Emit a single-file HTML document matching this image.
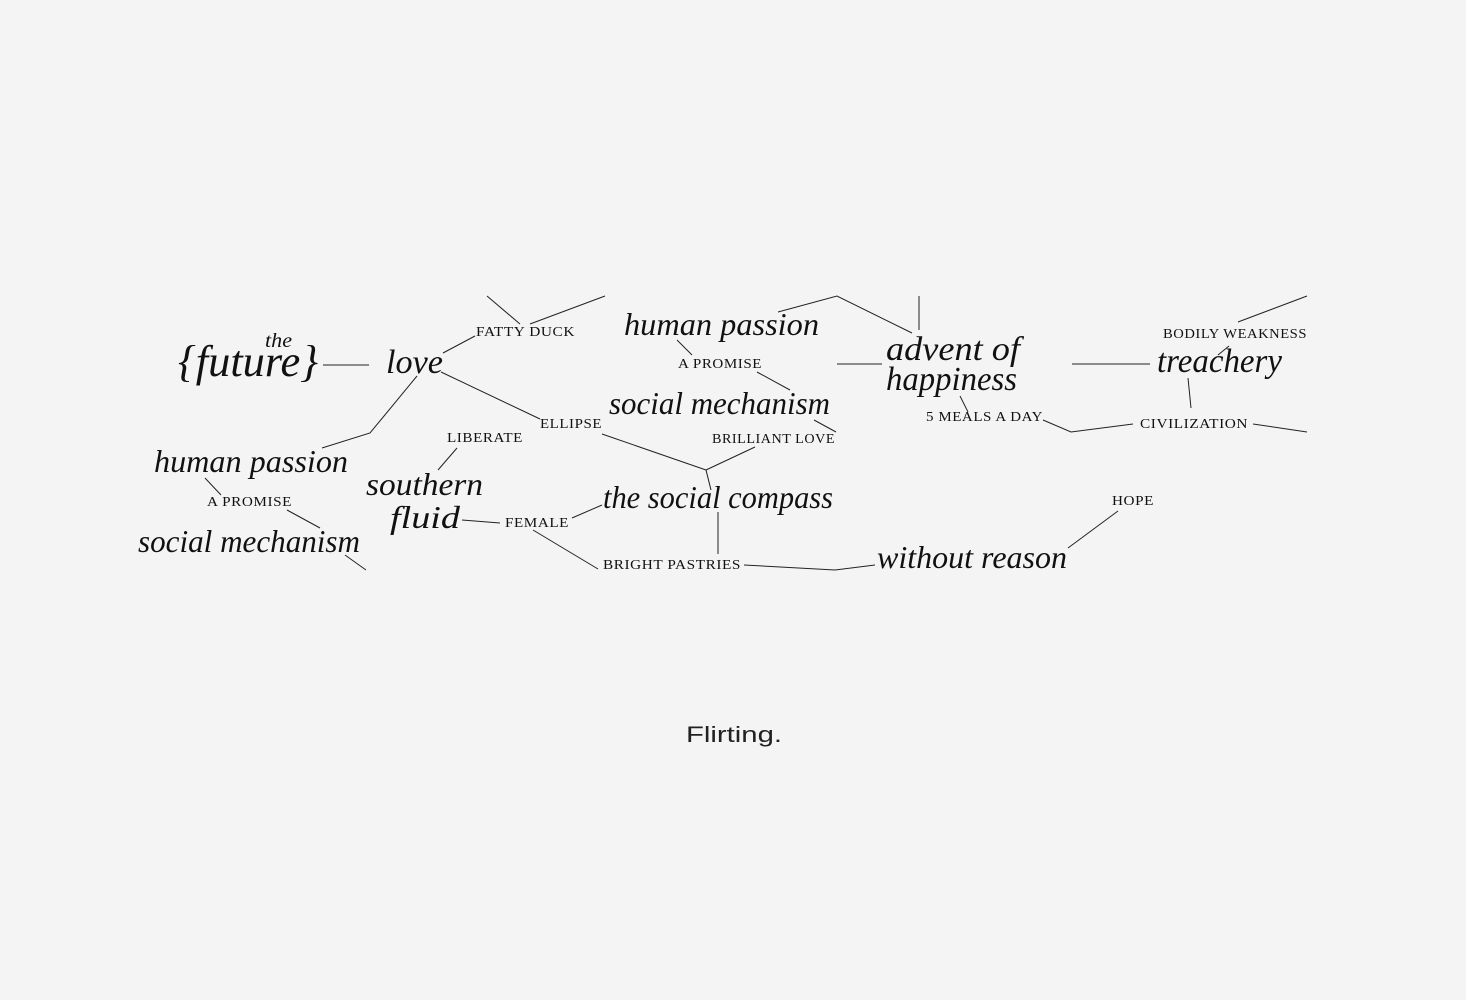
<!DOCTYPE html>
<html><head><meta charset="utf-8"><style>
html,body{margin:0;padding:0;background:#f4f4f4;}
svg{display:block}
.i{font-family:"Liberation Serif",serif;font-style:italic;fill:#111}
.s{font-family:"Liberation Serif",serif;fill:#111;font-size:13.5px;letter-spacing:0.5px}
line,polyline{stroke:#222;stroke-width:1;fill:none}
</style></head><body>
<svg width="1466" height="1000" viewBox="0 0 1466 1000" xmlns="http://www.w3.org/2000/svg">
<rect width="1466" height="1000" fill="#f4f4f4"/>
<!-- left cluster -->
<text class="i" x="265" y="347" font-size="20" textLength="27" lengthAdjust="spacingAndGlyphs">the</text>
<text class="i" x="178" y="376" font-size="44" textLength="140" lengthAdjust="spacingAndGlyphs">{future}</text>
<line x1="323" y1="365" x2="369" y2="365"/>
<text class="i" x="386" y="373" font-size="34" textLength="57" lengthAdjust="spacingAndGlyphs">love</text>
<text class="s" x="476" y="336" textLength="99" lengthAdjust="spacingAndGlyphs">FATTY DUCK</text>
<line x1="487" y1="296" x2="520" y2="324"/>
<line x1="530" y1="324" x2="605" y2="296"/>
<line x1="443" y1="353" x2="475" y2="336"/>
<line x1="441" y1="372" x2="540" y2="419"/>
<polyline points="417,376 370,433 322,448"/>
<text class="s" x="540" y="428" textLength="62" lengthAdjust="spacingAndGlyphs">ELLIPSE</text>
<line x1="602" y1="434" x2="706" y2="470"/>
<line x1="706" y1="470" x2="755" y2="447"/>
<line x1="706" y1="470" x2="711" y2="490"/>
<text class="s" x="712" y="443" textLength="123" lengthAdjust="spacingAndGlyphs">BRILLIANT LOVE</text>
<text class="s" x="447" y="442" textLength="76" lengthAdjust="spacingAndGlyphs">LIBERATE</text>
<line x1="457" y1="448" x2="438" y2="470"/>
<text class="i" x="154" y="472" font-size="32" textLength="194" lengthAdjust="spacingAndGlyphs">human passion</text>
<line x1="205" y1="478" x2="221" y2="495"/>
<text class="s" x="207" y="506" textLength="85" lengthAdjust="spacingAndGlyphs">A PROMISE</text>
<line x1="287" y1="510" x2="320" y2="528"/>
<text class="i" x="138" y="552" font-size="32" textLength="222" lengthAdjust="spacingAndGlyphs">social mechanism</text>
<line x1="345" y1="555" x2="366" y2="570"/>
<text class="i" x="366" y="495" font-size="32" textLength="117" lengthAdjust="spacingAndGlyphs">southern</text>
<text class="i" x="390" y="528" font-size="32" textLength="70" lengthAdjust="spacingAndGlyphs">fluid</text>
<line x1="462" y1="520" x2="500" y2="523"/>
<text class="s" x="505" y="527" textLength="64" lengthAdjust="spacingAndGlyphs">FEMALE</text>
<line x1="572" y1="518" x2="602" y2="505"/>
<line x1="533" y1="530" x2="598" y2="569"/>
<text class="i" x="603" y="508" font-size="32" textLength="230" lengthAdjust="spacingAndGlyphs">the social compass</text>
<line x1="718" y1="512" x2="718" y2="554"/>
<text class="s" x="603" y="569" textLength="138" lengthAdjust="spacingAndGlyphs">BRIGHT PASTRIES</text>
<polyline points="744,565 835,570 875,565"/>
<text class="i" x="877" y="568" font-size="32" textLength="190" lengthAdjust="spacingAndGlyphs">without reason</text>
<line x1="1068" y1="548" x2="1118" y2="511"/>
<text class="s" x="1112" y="505" textLength="42" lengthAdjust="spacingAndGlyphs">HOPE</text>
<!-- top middle -->
<text class="i" x="624" y="335" font-size="32" textLength="195" lengthAdjust="spacingAndGlyphs">human passion</text>
<polyline points="778,312 837,296 912,333"/>
<line x1="919" y1="296" x2="919" y2="330"/>
<line x1="677" y1="340" x2="692" y2="355"/>
<text class="s" x="678" y="368" textLength="84" lengthAdjust="spacingAndGlyphs">A PROMISE</text>
<line x1="757" y1="372" x2="790" y2="390"/>
<text class="i" x="609" y="414" font-size="32" textLength="221" lengthAdjust="spacingAndGlyphs">social mechanism</text>
<line x1="814" y1="420" x2="836" y2="432"/>
<line x1="837" y1="364" x2="882" y2="364"/>
<text class="i" x="886" y="360" font-size="34" textLength="134" lengthAdjust="spacingAndGlyphs">advent of</text>
<text class="i" x="886" y="390" font-size="34" textLength="131" lengthAdjust="spacingAndGlyphs">happiness</text>
<line x1="960" y1="396" x2="968" y2="412"/>
<text class="s" x="926" y="421" textLength="117" lengthAdjust="spacingAndGlyphs">5 MEALS A DAY</text>
<polyline points="1043,420 1071,432 1133,424"/>
<text class="s" x="1140" y="428" textLength="108" lengthAdjust="spacingAndGlyphs">CIVILIZATION</text>
<line x1="1253" y1="424" x2="1307" y2="432"/>
<line x1="1072" y1="364" x2="1150" y2="364"/>
<text class="i" x="1157" y="372" font-size="34" textLength="125" lengthAdjust="spacingAndGlyphs">treachery</text>
<line x1="1188" y1="378" x2="1191" y2="408"/>
<text class="s" x="1163" y="338" textLength="144" lengthAdjust="spacingAndGlyphs">BODILY WEAKNESS</text>
<line x1="1238" y1="322" x2="1307" y2="296"/>
<line x1="1229" y1="346" x2="1218" y2="355"/>
<text x="686" y="742" font-family="Liberation Sans, sans-serif" font-size="22" fill="#222" textLength="96" lengthAdjust="spacingAndGlyphs">Flirting.</text>
</svg>
</body></html>
